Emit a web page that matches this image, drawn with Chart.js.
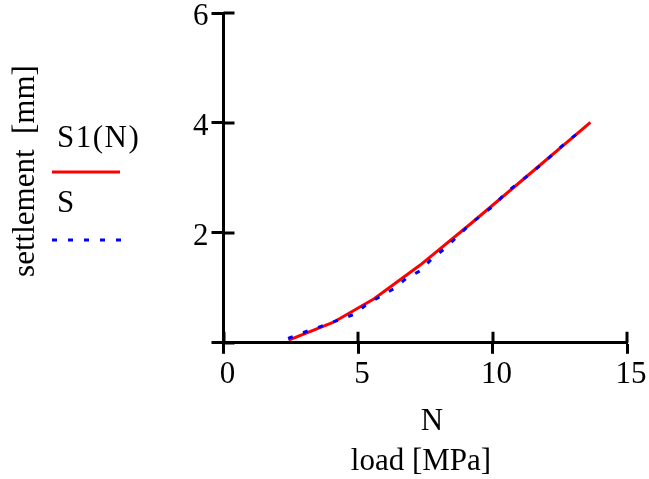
<!DOCTYPE html>
<html>
<head>
<meta charset="utf-8">
<script src="https://cdn.jsdelivr.net/npm/chart.js@4.4.1/dist/chart.umd.min.js"></script>
<style>
  html, body { margin: 0; padding: 0; background: #fff; }
</style>
</head>
<body>
<canvas id="canvas" width="649" height="479"></canvas>
<script>
// S1(N) - fitted settlement curve
var loadS1 = [2.42, 4.07, 5.6, 7.3, 9.2, 11.4, 13.64];
var settleS1 = [0.05, 0.37, 0.80, 1.41, 2.17, 3.08, 4.01];

// S - measured settlement
var loadS = [2.4, 3.1, 3.63, 4.19, 4.81, 5.33, 5.82, 6.35, 6.82, 7.31, 7.77, 8.24,
             8.66, 9.17, 9.56, 10.08, 10.51, 10.98, 11.49, 11.93, 12.4, 12.84, 13.33];
var settleS = [0.08, 0.21, 0.30, 0.40, 0.51, 0.70, 0.84, 0.99, 1.18, 1.31, 1.54, 1.72,
               1.92, 2.16, 2.31, 2.51, 2.74, 2.91, 3.11, 3.29, 3.50, 3.69, 3.87];

var xTicks = [0, 5, 10, 15];
var yTicks = [0, 2, 4, 6];

var FONT = 'Liberation Serif';

function pts(xs, ys) {
    return xs.map(function (x, i) { return {x: x, y: ys[i]}; });
}

// ticks crossing the axes, legend and axis titles (Mathcad style)
var extras = {
    id: 'extras',
    afterDraw: function (chart) {
        var ctx = chart.ctx;
        var xs = chart.scales.x, ys = chart.scales.y;
        var area = chart.chartArea;
        ctx.save();
        ctx.strokeStyle = '#000';
        ctx.lineWidth = 3;
        ctx.beginPath();
        xTicks.forEach(function (v) {
            var px = Math.round(xs.getPixelForValue(v));
            ctx.moveTo(px, area.bottom);
            ctx.lineTo(px, area.bottom - 11);
        });
        yTicks.forEach(function (v) {
            var py = Math.round(ys.getPixelForValue(v));
            ctx.moveTo(area.left, py);
            ctx.lineTo(area.left + 11, py);
        });
        ctx.stroke();

        ctx.fillStyle = '#000';
        ctx.font = '31px "' + FONT + '"';
        ctx.textAlign = 'center';
        ctx.textBaseline = 'middle';
        ctx.fillText('N', 432, 422);
        ctx.fillText('load [MPa]', 421, 462);

        ctx.save();
        ctx.translate(26, 171);
        ctx.rotate(-Math.PI / 2);
        ctx.fillText('settlement  [mm]', 0, 0);
        ctx.restore();

        // legend
        var ds = chart.data.datasets;
        ctx.textAlign = 'left';
        ctx.letterSpacing = '1.5px';
        ctx.fillText(ds[0].label, 57, 139);
        ctx.fillText(ds[1].label, 57, 204);
        ctx.letterSpacing = '0px';
        ctx.lineWidth = 3;
        ctx.strokeStyle = ds[0].borderColor;
        ctx.setLineDash([]);
        ctx.beginPath();
        ctx.moveTo(52, 172);
        ctx.lineTo(120, 172);
        ctx.stroke();
        ctx.strokeStyle = ds[1].borderColor;
        ctx.setLineDash(ds[1].borderDash);
        ctx.beginPath();
        ctx.moveTo(52, 240);
        ctx.lineTo(122, 240);
        ctx.stroke();
        ctx.restore();
    }
};

var ctx = document.getElementById('canvas').getContext('2d');
var config = {
    type: 'line',
    data: {
        datasets: [{
            label: 'S1(N)',
            data: pts(loadS1, settleS1),
            borderColor: '#ff0000',
            borderWidth: 3,
            pointRadius: 0,
            fill: false,
            order: 1
        }, {
            label: 'S',
            data: pts(loadS, settleS),
            borderColor: '#0000ff',
            borderWidth: 3,
            borderDash: [5, 11],
            pointRadius: 0,
            fill: false,
            order: 0
        }]
    },
    options: {
        responsive: false,
        animation: false,
        layout: {
            autoPadding: false,
            padding: {left: 190, right: 22, top: 13, bottom: 84}
        },
        plugins: {
            legend: {display: false},
            tooltip: {enabled: false}
        },
        scales: {
            x: {
                type: 'linear',
                position: 'bottom',
                min: 0,
                max: 15,
                afterBuildTicks: function (s) {
                    s.ticks = xTicks.map(function (v) { return {value: v}; });
                },
                afterFit: function (s) {
                    s.paddingLeft = 0;
                    s.paddingRight = 0;
                },
                ticks: {
                    color: '#000',
                    font: {family: FONT, size: 31},
                    padding: 2,
                    labelOffset: 4,
                    maxRotation: 0
                },
                grid: {
                    drawOnChartArea: false,
                    color: '#000',
                    tickLength: 11,
                    tickWidth: 3
                },
                border: {color: '#000', width: 3}
            },
            y: {
                type: 'linear',
                position: 'left',
                min: 0,
                max: 6,
                afterBuildTicks: function (s) {
                    s.ticks = yTicks.map(function (v) { return {value: v}; });
                },
                afterFit: function (s) {
                    s.paddingTop = 0;
                    s.paddingBottom = 0;
                },
                ticks: {
                    color: '#000',
                    font: {family: FONT, size: 31},
                    padding: 3,
                    labelOffset: 4,
                    callback: function (v) { return v === 0 ? '' : v; }
                },
                grid: {
                    drawOnChartArea: false,
                    color: '#000',
                    tickLength: 12,
                    tickWidth: 3
                },
                border: {color: '#000', width: 3}
            }
        }
    },
    plugins: [extras]
};

var chart = new Chart(ctx, config);
</script>
</body>
</html>
